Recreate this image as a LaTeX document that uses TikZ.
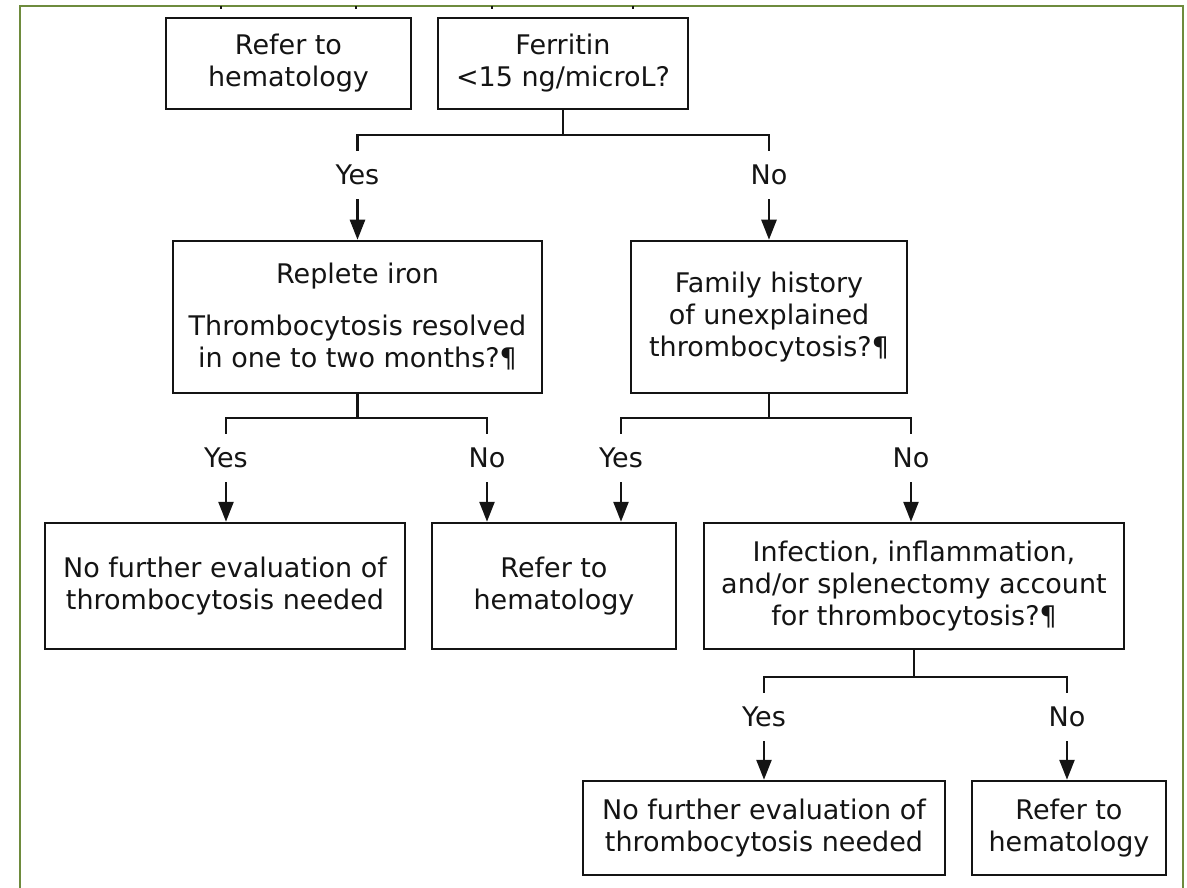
\documentclass[tikz,border=0pt]{standalone}
\usepackage{fontspec}
\setmainfont{DejaVu Sans}
\usepackage{xcolor}
\definecolor{frmgreen}{HTML}{6E8B3D}
\definecolor{ink}{HTML}{141414}
\usepackage{tikz}
\usetikzlibrary{arrows.meta}

\begin{document}
\begin{tikzpicture}[
  x=1pt, y=1pt,
  font=\fontsize{27}{32}\selectfont,
  box/.style={rectangle, draw=ink, line width=2.5pt, text=ink,
              align=center, inner sep=0pt},
  lbl/.style={inner sep=0pt, minimum height=48pt, text=ink},
  link/.style={draw=ink, line width=2.5pt},
  arr/.style={-{Triangle[length=20pt, width=15pt]}, draw=ink,
              line width=2.5pt},
  frm/.style={draw=frmgreen, line width=2pt}
]
  \useasboundingbox (0,0) rectangle (1187,-888);
  \draw[frm] (20,-888) -- (20,-6) -- (1183,-6) -- (1183,-888);
  \foreach \x in {221,356,492,633}
    \draw[link, line width=1.5pt] (\x,-6) -- ++(0,-3);

  \node[box, minimum width=245pt, minimum height=91pt] (referA)
    at (288.5,-63.5) {Refer to\\hematology};
  \node[box, minimum width=250pt, minimum height=91pt] (ferritin)
    at (563,-63.5) {Ferritin\\<15 ng/microL?};

  \node[lbl] (yes1) at (357.5,-175) {Yes};
  \node[lbl] (no1) at (769,-175) {No};

  \node[box, minimum width=369pt, minimum height=152pt] (replete)
    at (357.5,-317)
    {Replete iron\\[20pt]Thrombocytosis resolved\\in one to two months?¶};
  \node[box, minimum width=276pt, minimum height=152pt] (family)
    at (769,-317)
    {Family history\\of unexplained\\thrombocytosis?¶};

  \node[lbl] (yes2) at (226,-458) {Yes};
  \node[lbl] (no2) at (487,-458) {No};
  \node[lbl] (yes3) at (621,-458) {Yes};
  \node[lbl] (no3) at (911,-458) {No};

  \node[box, minimum width=360pt, minimum height=126pt] (nofurtherA)
    at (225,-586)
    {No further evaluation of\\thrombocytosis needed};
  \node[box, minimum width=244pt, minimum height=126pt] (referB)
    at (554,-586) {Refer to\\hematology};
  \node[box, minimum width=420pt, minimum height=126pt] (infection)
    at (914,-586)
    {Infection, inflammation,\\and/or splenectomy account\\for thrombocytosis?¶};

  \node[lbl] (yes4) at (764,-717) {Yes};
  \node[lbl] (no4) at (1067,-717) {No};

  \node[box, minimum width=362pt, minimum height=94pt] (nofurtherB)
    at (764,-828)
    {No further evaluation of\\thrombocytosis needed};
  \node[box, minimum width=194pt, minimum height=94pt] (referC)
    at (1069,-828) {Refer to\\hematology};

  \draw[link] (yes1.north) -- ++(0,16) coordinate (bar1) -| (no1.north);
  \draw[link] (ferritin.south) -- (ferritin.south |- bar1);
  \draw[arr] (yes1.south) -- (yes1.south |- replete.north);
  \draw[arr] (no1.south) -- (no1.south |- family.north);

  \draw[link] (yes2.north) -- ++(0,16) coordinate (bar2) -| (no2.north);
  \draw[link] (replete.south) -- (replete.south |- bar2);
  \draw[link] (yes3.north) -- ++(0,16) coordinate (bar3) -| (no3.north);
  \draw[link] (family.south) -- (family.south |- bar3);
  \draw[arr] (yes2.south) -- (yes2.south |- nofurtherA.north);
  \draw[arr] (no2.south) -- (no2.south |- referB.north);
  \draw[arr] (yes3.south) -- (yes3.south |- referB.north);
  \draw[arr] (no3.south) -- (no3.south |- infection.north);

  \draw[link] (yes4.north) -- ++(0,16) coordinate (bar4) -| (no4.north);
  \draw[link] (infection.south) -- (infection.south |- bar4);
  \draw[arr] (yes4.south) -- (yes4.south |- nofurtherB.north);
  \draw[arr] (no4.south) -- (no4.south |- referC.north);
\end{tikzpicture}
\end{document}
